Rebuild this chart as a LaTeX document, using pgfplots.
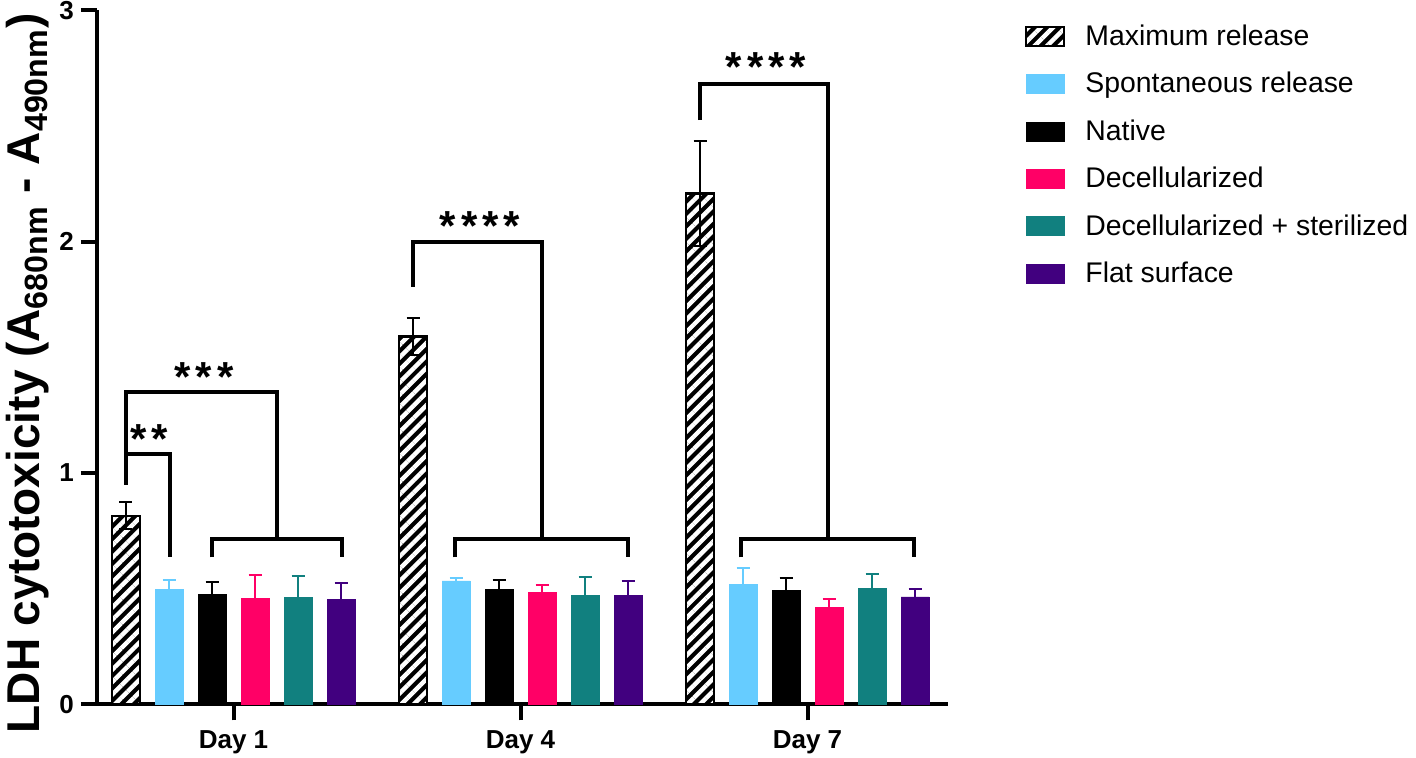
\documentclass[border=0pt]{standalone}
\usepackage{fontspec}
\setmainfont{Liberation Sans}
\usepackage{pgfplots}
\pgfplotsset{compat=1.18}
\usetikzlibrary{patterns.meta}
\definecolor{spont}{HTML}{66CCFF}
\definecolor{decell}{HTML}{FF0066}
\definecolor{decster}{HTML}{11807F}
\definecolor{flat}{HTML}{41007F}
\pgfplotsset{
  mybar/.style={ybar, bar width=28, bar shift=0pt,
    legend image code/.code={\draw[##1] (0pt,-4.75pt) rectangle (19pt,4.75pt);}},
  myerr/.style={error bars/.cd, y dir=plus, y explicit,
    error bar style={line width=1pt, #1},
    error mark options={rotate=90, mark size=3.25pt, line width=1pt, #1}},
}
\newcommand{\stars}[1]{{\bfseries\fontsize{21}{21}\selectfont\addfontfeatures{LetterSpace=12}#1}}
\begin{document}
\begin{tikzpicture}
\begin{axis}[
  x=0.5pt, y=115.7pt,
  xmin=97, xmax=948, ymin=0, ymax=3,
  axis lines=left,
  axis line style={-, line width=2pt},
  clip=false,
  xtick={233.5,520.5,807.5},
  xticklabels={Day 1, Day 4, Day 7},
  ytick={0,1,2,3},
  yticklabels={0,1,2,3},
  tick align=outside,
  major tick length=8pt,
  tick style={line width=2pt, black},
  ticklabel style={font=\bfseries\fontsize{13}{13}\selectfont},
  xticklabel style={yshift=-1.5pt},
  /pgf/number format/assume math mode=true,
  legend style={at={(rel axis cs:1.0905,0.979)}, anchor=north west,
    draw=none, fill=none, inner sep=0pt, outer sep=0pt,
    row sep=11.95pt,
    font=\fontsize{14.2}{15}\selectfont,
    nodes={inner sep=0pt},
    /tikz/every odd column/.style={column sep=10pt}},
  legend cell align=left,
]
% Maximum release
\addplot[mybar, draw=black, line width=1.2pt, preaction={fill=black},
  pattern={Lines[angle=45,distance=4.4pt,line width=2.2pt]}, pattern color=white,
  error bars/.cd, y dir=both, y explicit,
  error bar style={line width=1pt, black, solid},
  error mark options={rotate=90, mark size=3.25pt, line width=1pt, black}]
  coordinates {(126,0.815) +- (0,0.058) (413,1.589) +- (0,0.079) (700,2.207) +- (0,0.226)};
\addlegendentry{Maximum release}
\addplot[mybar, fill=spont, draw=spont, myerr=spont]
  coordinates {(169,0.498) +- (0,0.039) (456,0.533) +- (0,0.012) (743,0.519) +- (0,0.069)};
\addlegendentry{Spontaneous release}
\addplot[mybar, fill=black, draw=black, myerr=black]
  coordinates {(212,0.475) +- (0,0.052) (499,0.497) +- (0,0.040) (786,0.494) +- (0,0.054)};
\addlegendentry{Native}
\addplot[mybar, fill=decell, draw=decell, myerr=decell]
  coordinates {(255,0.459) +- (0,0.100) (542,0.485) +- (0,0.032) (829,0.419) +- (0,0.037)};
\addlegendentry{Decellularized}
\addplot[mybar, fill=decster, draw=decster, myerr=decster]
  coordinates {(298,0.462) +- (0,0.094) (585,0.469) +- (0,0.080) (872,0.501) +- (0,0.061)};
\addlegendentry{Decellularized + sterilized}
\addplot[mybar, fill=flat, draw=flat, myerr=flat]
  coordinates {(341,0.454) +- (0,0.069) (628,0.471) +- (0,0.062) (915,0.464) +- (0,0.036)};
\addlegendentry{Flat surface}
% brackets
\addplot[forget plot, black, line width=2pt, mark=none] coordinates {(126,0.948) (126,1.348) (277,1.348) (277,0.714)};
\addplot[forget plot, black, line width=2pt, mark=none] coordinates {(126,1.080) (170,1.080) (170,0.635)};
\addplot[forget plot, black, line width=2pt, mark=none] coordinates {(212,0.635) (212,0.714) (342,0.714) (342,0.635)};
\addplot[forget plot, black, line width=2pt, mark=none] coordinates {(413,1.805) (413,1.997) (542,1.997) (542,0.714)};
\addplot[forget plot, black, line width=2pt, mark=none] coordinates {(455,0.635) (455,0.714) (628,0.714) (628,0.635)};
\addplot[forget plot, black, line width=2pt, mark=none] coordinates {(700,2.525) (700,2.679) (828,2.679) (828,0.714)};
\addplot[forget plot, black, line width=2pt, mark=none] coordinates {(741,0.635) (741,0.714) (914,0.714) (914,0.635)};
% stars
\node at (axis cs:149,1.146) {\stars{**}};
\node at (axis cs:204,1.416) {\stars{***}};
\node at (axis cs:480,2.067) {\stars{****}};
\node at (axis cs:766,2.755) {\stars{****}};
% y label
\node[rotate=90, font=\bfseries\fontsize{23}{23}\selectfont] at (axis cs:28,1.43)
  {LDH cytotoxicity (A\textsubscript{680nm} - A\textsubscript{490nm})};
\coordinate (bbA) at (axis cs:0,-0.2277);
\coordinate (bbB) at (axis cs:1416,3.0437);
\end{axis}
\pgfresetboundingbox
\useasboundingbox (bbA) rectangle (bbB);
\end{tikzpicture}
\end{document}
